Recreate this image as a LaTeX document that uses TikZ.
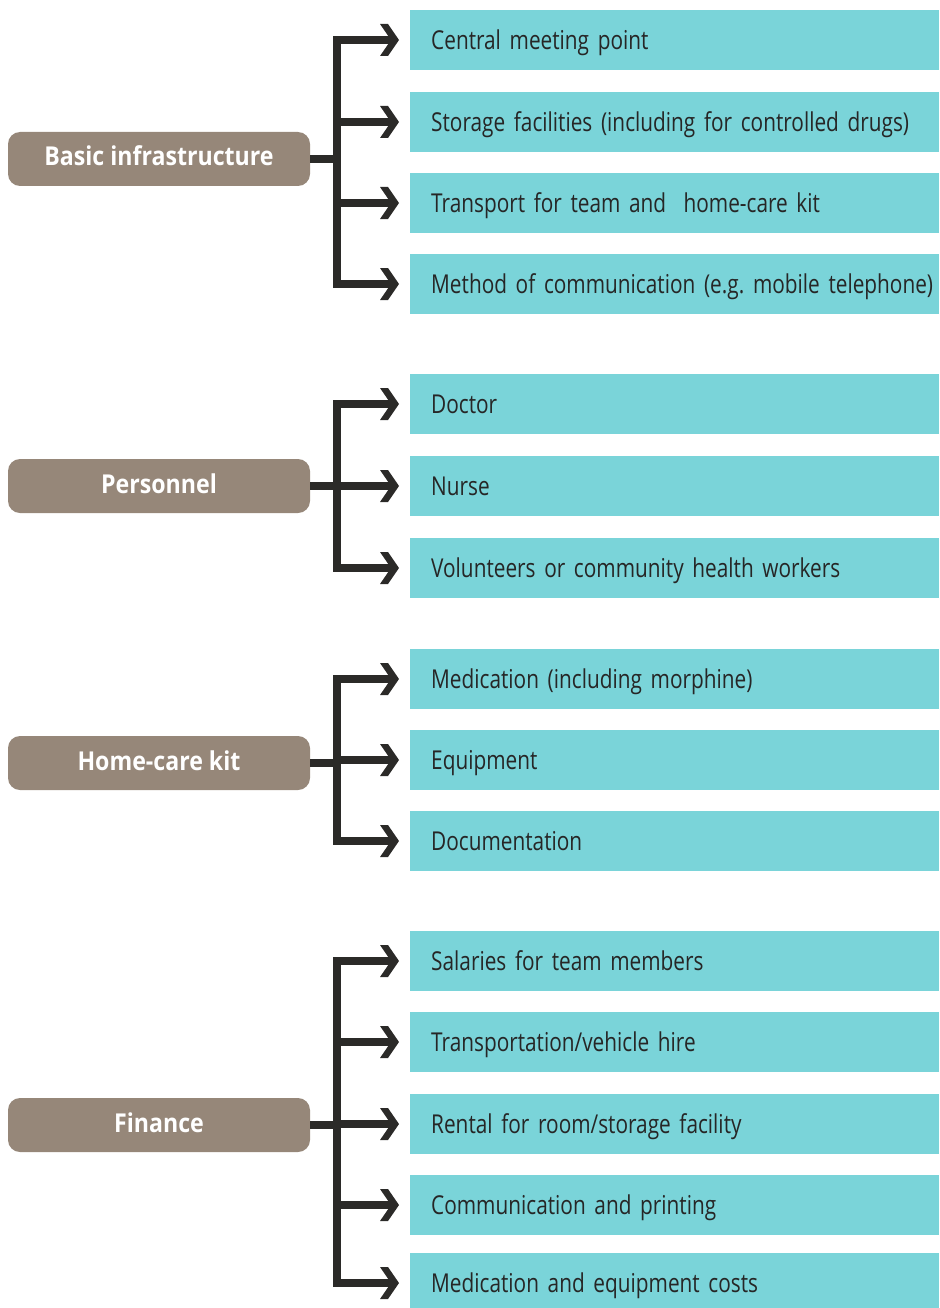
\documentclass[tikz,border=0pt]{standalone}
\usepackage{fontspec}
\setmainfont{Open Sans}[FakeStretch=0.80, BoldFeatures={FakeStretch=0.89}]
\usetikzlibrary{calc}
\definecolor{teal}{HTML}{7AD4D9}
\definecolor{taupe}{HTML}{968779}
\definecolor{dark}{HTML}{2B2A28}
\definecolor{txt}{HTML}{262626}
\frenchspacing
\newcommand{\myitemfont}{\fontsize{26}{30}\selectfont}
\newcommand{\mycatfont}{\fontsize{26}{30}\selectfont\bfseries}
\tikzset{
  item/.style={fill=teal, draw=none, anchor=west, minimum height=60pt, text width=529pt,
    inner xsep=0pt, inner ysep=0pt, align=left, text=txt, text height=19pt, text depth=0pt,
    font=\myitemfont,
    execute at begin node={\hspace*{21pt}\mbox\bgroup}, execute at end node={\egroup}},
  cat/.style={fill=taupe, draw=none, rounded corners=12pt, minimum width=302pt, minimum height=54pt,
    inner sep=0pt, text=white, text height=19pt, text depth=5pt,
    font=\mycatfont},
  conn/.style={draw=dark, line width=7.5pt, line join=miter, line cap=butt},
  chev/.style={fill=dark, draw=none}
}
\newcommand{\branch}[2]{%
  \draw[conn] (#1.east) -- ++(27,0) |- ([xshift=-19pt]#2.west);
  \fill[chev] ([xshift=-11pt]#2.west) ++(-19,-16) -- ++(8,0) -- ++(11,16) -- ++(-11,16) -- ++(-8,0) -- ++(11,-16) -- cycle;
}
\begin{document}
\begin{tikzpicture}[x=1pt,y=-1pt]
\useasboundingbox (0,0) rectangle (939,1308);
% group 1
\node[cat] (c1) at (159,159) {Basic infrastructure};
\node[item] (a1) at (410,40) {Central meeting point};
\node[item] (a2) at (410,122) {Storage facilities (including for controlled drugs)};
\node[item] (a3) at (410,203) {Transport for team and\ \ home-care kit};
\node[item] (a4) at (410,284) {Method of communication (e.g.\ mobile telephone)};
% group 2
\node[cat] (c2) at (159,486) {Personnel};
\node[item] (b1) at (410,404) {Doctor};
\node[item] (b2) at (410,486) {Nurse};
\node[item] (b3) at (410,568) {Volunteers or community health workers};
% group 3
\node[cat] (c3) at (159,763) {Home-care kit};
\node[item] (d1) at (410,679) {Medication (including morphine)};
\node[item] (d2) at (410,760) {Equipment};
\node[item] (d3) at (410,841) {Documentation};
% group 4
\node[cat] (c4) at (159,1125) {Finance};
\node[item] (e1) at (410,961) {Salaries for team members};
\node[item] (e2) at (410,1042) {Transportation/vehicle hire};
\node[item] (e3) at (410,1124) {Rental for room/storage facility};
\node[item] (e4) at (410,1205) {Communication and printing};
\node[item] (e5) at (410,1283) {Medication and equipment costs};
\branch{c1}{a1}\branch{c1}{a2}\branch{c1}{a3}\branch{c1}{a4}
\branch{c2}{b1}\branch{c2}{b2}\branch{c2}{b3}
\branch{c3}{d1}\branch{c3}{d2}\branch{c3}{d3}
\branch{c4}{e1}\branch{c4}{e2}\branch{c4}{e3}\branch{c4}{e4}\branch{c4}{e5}
\end{tikzpicture}
\end{document}
